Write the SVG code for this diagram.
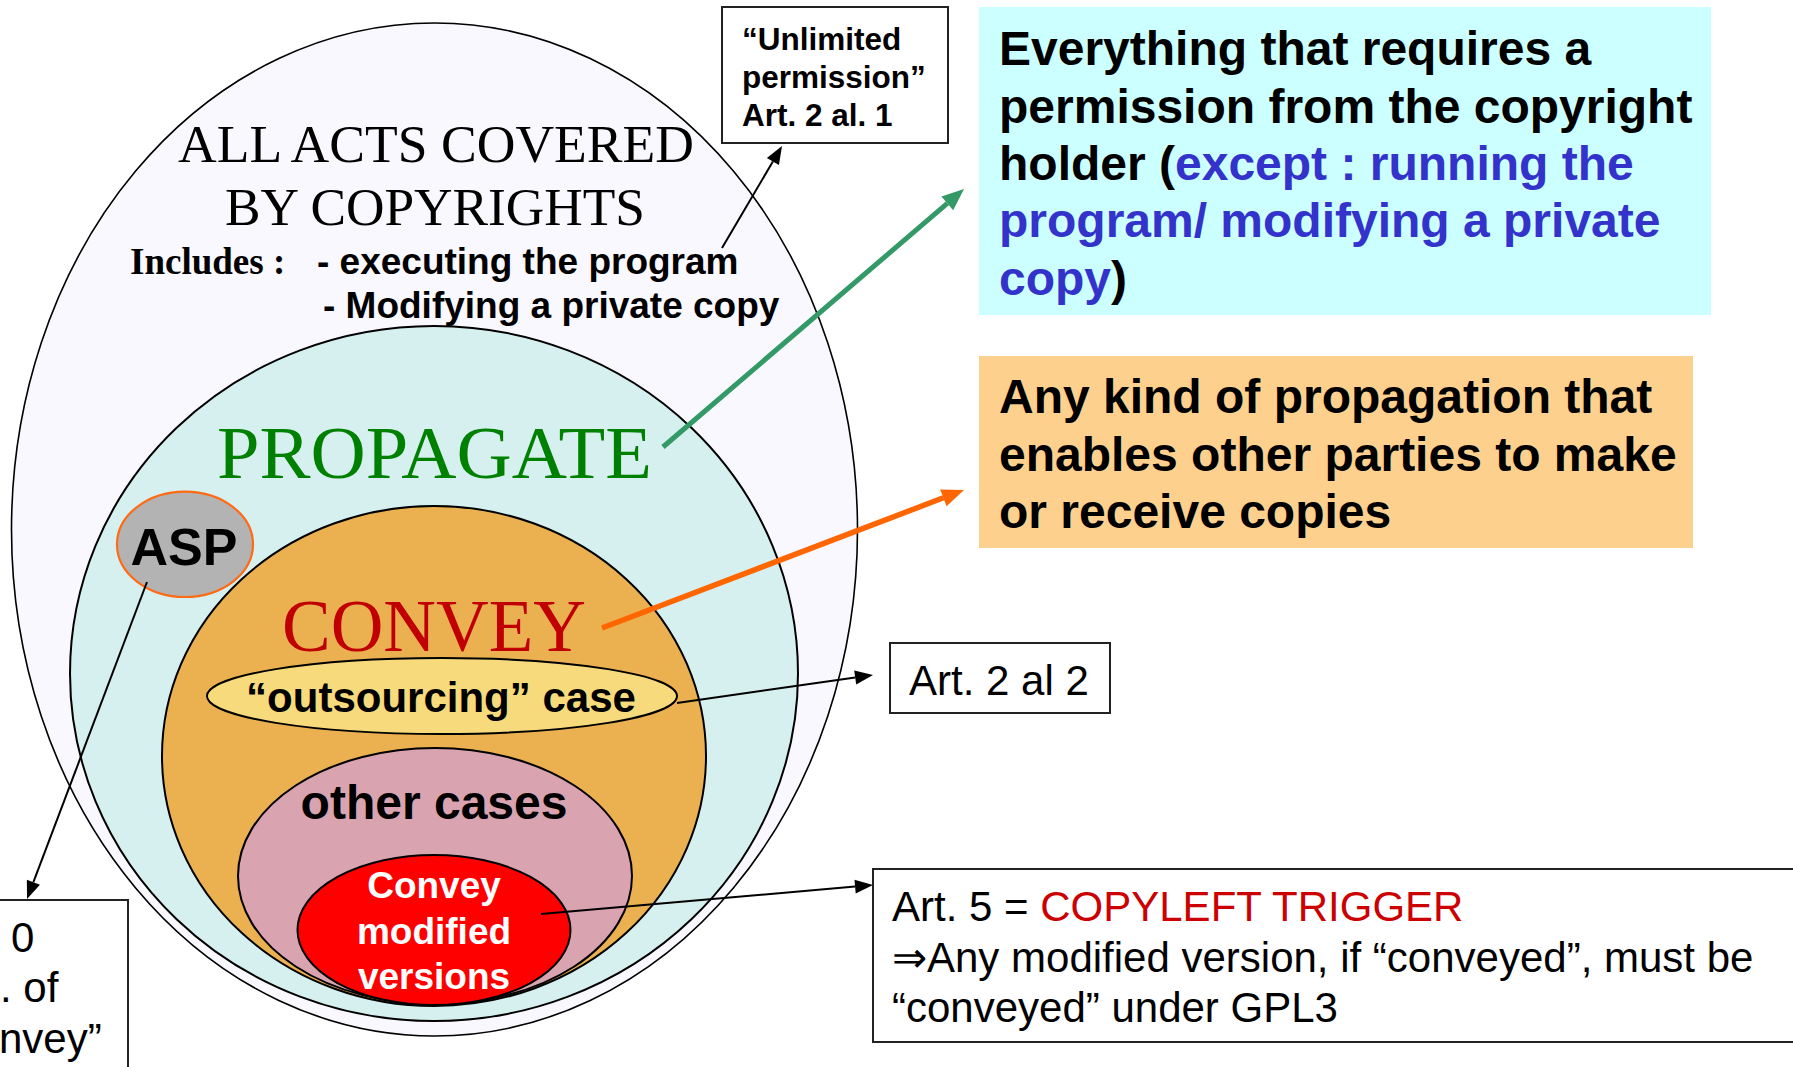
<svg xmlns="http://www.w3.org/2000/svg" width="1793" height="1067" viewBox="0 0 1793 1067">
<style>
.ol{stroke:#000;stroke-width:2}
.serif{font-family:"Liberation Serif","Times New Roman",serif}
.sans{font-family:"Liberation Sans",Arial,sans-serif}
.b{font-weight:bold}
.mid{text-anchor:middle}
.thin{stroke:#000;stroke-width:2;fill:none}
.box{fill:#fff;stroke:#222;stroke-width:2}
.blue{fill:#3333cc}
</style>
<defs>
<marker id="ah" markerUnits="userSpaceOnUse" markerWidth="20" markerHeight="16" refX="0" refY="7" orient="auto" overflow="visible">
<path d="M0,0 L18,7 L0,14 z" fill="#000"/>
</marker>
<marker id="ahG" markerUnits="userSpaceOnUse" markerWidth="24" markerHeight="20" refX="0" refY="9" orient="auto" overflow="visible">
<path d="M0,0 L22,9 L0,18 z" fill="#339966"/>
</marker>
<marker id="ahO" markerUnits="userSpaceOnUse" markerWidth="24" markerHeight="20" refX="0" refY="9" orient="auto" overflow="visible">
<path d="M0,0 L22,9 L0,18 z" fill="#ff6600"/>
</marker>
</defs>
<rect width="1793" height="1067" fill="#fff"/>

<g id="all-acts">
<ellipse cx="434.5" cy="529.5" rx="423" ry="506.5" fill="#f8f8fe" stroke="#000" stroke-width="1.6"/>
<text class="serif" x="178" y="162" font-size="53" textLength="516" lengthAdjust="spacingAndGlyphs">ALL ACTS COVERED</text>
<text class="serif" x="225" y="225" font-size="53" textLength="420" lengthAdjust="spacingAndGlyphs">BY COPYRIGHTS</text>
<text class="serif b" x="130" y="274" font-size="37">Includes :</text>
<text class="sans b" x="317" y="274" font-size="37">- executing the program</text>
<text class="sans b" x="323" y="318" font-size="37">- Modifying a private copy</text>
</g>

<g id="propagate">
<ellipse cx="434" cy="673.5" rx="364" ry="347.5" fill="#d6f0ef" class="ol"/>
<text class="serif" x="217" y="478" font-size="75" fill="#008000" textLength="435" lengthAdjust="spacingAndGlyphs">PROPAGATE</text>
</g>

<g id="asp">
<ellipse cx="185" cy="544.3" rx="68" ry="52.7" fill="#b3b3b3" stroke="#ff6a13" stroke-width="2.2"/>
<text class="sans b mid" x="184" y="565" font-size="52">ASP</text>
</g>

<g id="convey">
<ellipse cx="434" cy="756" rx="272" ry="250" fill="#ebb050" class="ol"/>
<text class="serif" x="282" y="651" font-size="75" fill="#c00000" textLength="304" lengthAdjust="spacingAndGlyphs">CONVEY</text>
</g>

<g id="outsourcing">
<ellipse cx="442" cy="696" rx="235" ry="38" fill="#f7da7b" class="ol"/>
<text class="sans b mid" x="441" y="712" font-size="42">“outsourcing” case</text>
</g>

<g id="other-cases">
<ellipse cx="435" cy="876" rx="197" ry="128" fill="#d9a3b0" class="ol"/>
<text class="sans b mid" x="434" y="819" font-size="48">other cases</text>
</g>

<g id="convey-modified">
<ellipse cx="434" cy="930" rx="136.5" ry="75" fill="#ff0000" class="ol"/>
<text class="sans b mid" x="434" y="898" font-size="37" fill="#fff">Convey</text>
<text class="sans b mid" x="434" y="944" font-size="37" fill="#fff">modified</text>
<text class="sans b mid" x="434" y="989" font-size="37" fill="#fff">versions</text>
</g>

<g id="unlimited-box">
<rect x="722" y="7" width="226" height="136" class="box"/>
<text class="sans b" x="742" y="50" font-size="31.5">“Unlimited</text>
<text class="sans b" x="742" y="88" font-size="31.5">permission”</text>
<text class="sans b" x="742" y="126" font-size="31.5">Art. 2 al. 1</text>
</g>

<g id="permission-box">
<rect x="979" y="7" width="732" height="308" fill="#ccffff"/>
<text class="sans b" font-size="48" x="999" y="65">Everything that requires a</text>
<text class="sans b" font-size="48" x="999" y="123">permission from the copyright</text>
<text class="sans b" font-size="48" x="999" y="180">holder (<tspan class="blue">except : running the</tspan></text>
<text class="sans b blue" font-size="48" x="999" y="237">program/ modifying a private</text>
<text class="sans b" font-size="48" x="999" y="295"><tspan class="blue">copy</tspan>)</text>
</g>

<g id="propagation-box">
<rect x="979" y="356" width="714" height="192" fill="#fdd08e"/>
<text class="sans b" font-size="48" x="999" y="413">Any kind of propagation that</text>
<text class="sans b" font-size="48" x="999" y="471">enables other parties to make</text>
<text class="sans b" font-size="48" x="999" y="528">or receive copies</text>
</g>

<g id="art22-box">
<rect x="890" y="643" width="220" height="70" class="box"/>
<text class="sans" font-size="42" x="909" y="695">Art. 2 al 2</text>
</g>

<g id="art5-box">
<rect x="873" y="869" width="940" height="173" class="box"/>
<text class="sans" font-size="42" x="892" y="921">Art. 5 = <tspan fill="#cc0000">COPYLEFT TRIGGER</tspan></text>
<text class="sans" font-size="42" x="892" y="972">⇒Any modified version, if “conveyed”, must be</text>
<text class="sans" font-size="42" x="892" y="1022">“conveyed” under GPL3</text>
</g>

<g id="art0-box">
<rect x="-10" y="900" width="138" height="200" class="box"/>
<text class="sans" font-size="42" x="11" y="952">0</text>
<text class="sans" font-size="42" x="0" y="1002">. of</text>
<text class="sans" font-size="42" x="-1" y="1053">nvey”</text>
</g>

<g id="connectors">
<line x1="722" y1="248" x2="772.9" y2="161.5" class="thin" marker-end="url(#ah)"/>
<line x1="663" y1="447" x2="947.3" y2="203.3" stroke="#339966" stroke-width="5" marker-end="url(#ahG)"/>
<line x1="602" y1="628" x2="943.4" y2="497.8" stroke="#ff6600" stroke-width="5.5" marker-end="url(#ahO)"/>
<line x1="677" y1="703" x2="855.2" y2="677.5" class="thin" marker-end="url(#ah)"/>
<line x1="541" y1="914" x2="855.1" y2="886.6" class="thin" marker-end="url(#ah)"/>
<line x1="147" y1="582" x2="33.4" y2="882.2" class="thin" marker-end="url(#ah)"/>
</g>
</svg>
